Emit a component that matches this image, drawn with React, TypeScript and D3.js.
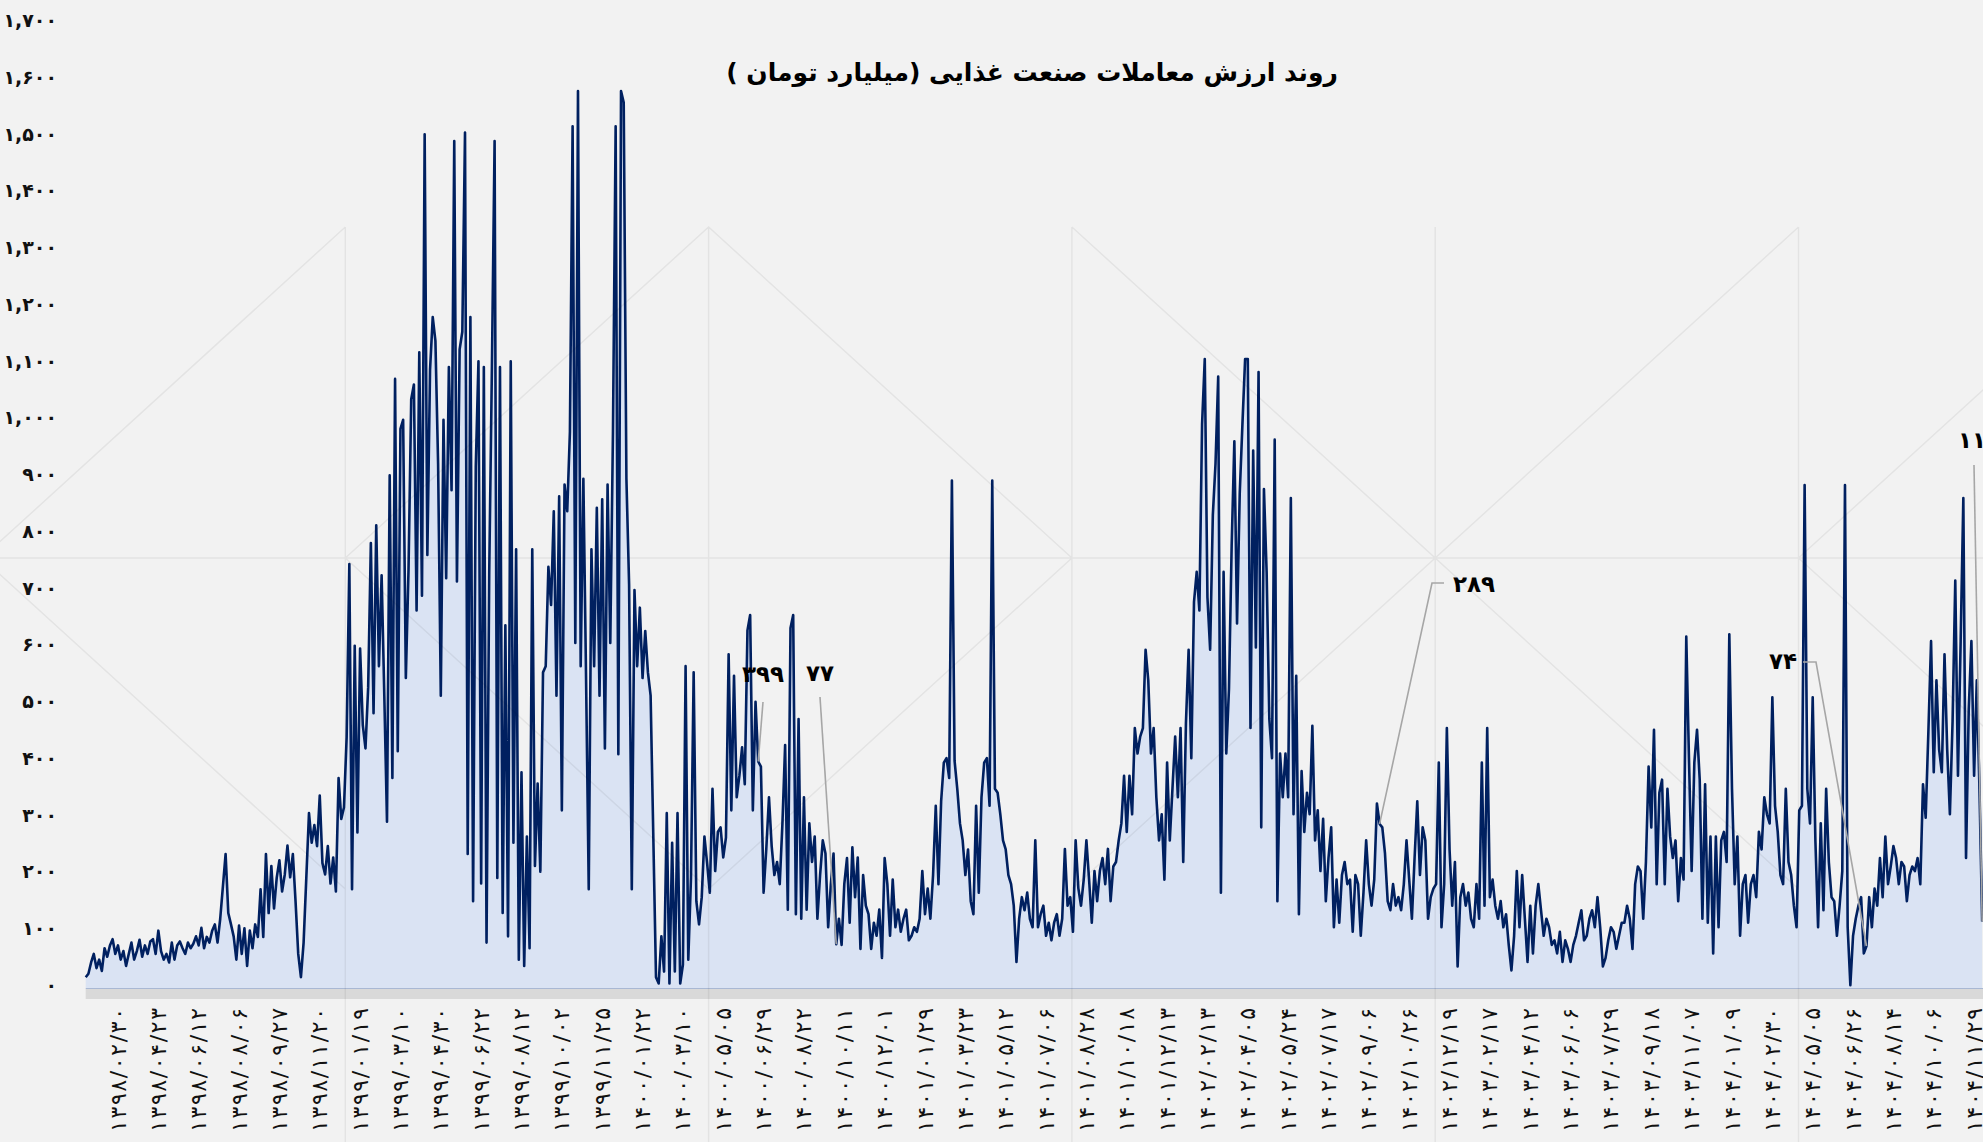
import React from 'react';
import * as d3 from 'd3';

// Daily (sampled) value of food-industry trades, billion toman
const values: number[] = [
  19, 25, 45, 60, 35, 50, 30, 70, 55, 75,
  86, 60, 75, 50, 65, 39, 60, 80, 50, 65,
  85, 55, 75, 60, 82, 86, 60, 101, 65, 50,
  60, 45, 80, 50, 75, 82, 70, 60, 80, 70,
  78, 91, 75, 106, 70, 90, 80, 101, 112, 80,
  122, 179, 236, 132, 112, 91, 50, 110, 60, 105,
  39, 101, 70, 112, 90, 174, 90, 236, 132, 215,
  140, 194, 225, 170, 200, 251, 195, 236, 153, 60,
  19, 80, 194, 308, 256, 287, 250, 339, 220, 200,
  250, 184, 230, 170, 370, 298, 318, 442, 747, 174,
  603, 274, 598, 463, 422, 530, 784, 484, 815, 567,
  727, 515, 293, 903, 370, 1073, 417, 985, 1001, 546,
  737, 1037, 1063, 665, 1120, 691, 1504, 763, 1089, 1182,
  1140, 923, 515, 1001, 722, 1094, 877, 1492, 716, 1125,
  1156, 1507, 236, 1182, 153, 918, 1104, 184, 1094, 80,
  732, 1094, 1492, 194, 1094, 132, 639, 91, 1104, 256,
  773, 50, 380, 39, 267, 70, 773, 215, 360, 205,
  556, 567, 742, 675, 840, 515, 866, 313, 887, 840,
  980, 1518, 608, 1580, 567, 897, 546, 174, 773, 567,
  846, 515, 861, 422, 887, 608, 980, 1518, 412, 1580,
  1560, 897, 711, 174, 701, 567, 670, 546, 629, 556,
  515, 267, 19, 8, 91, 29, 308, 8, 256, 29,
  308, 8, 41, 567, 50, 194, 556, 153, 112, 160,
  267, 220, 168, 351, 206, 275, 283, 230, 265, 588,
  313, 550, 336, 374, 424, 359, 630, 657, 313, 504,
  399, 390, 168, 245, 336, 250, 199, 222, 183, 290,
  428, 138, 634, 657, 130, 474, 122, 336, 138, 290,
  222, 267, 122, 199, 260, 237, 107, 183, 237, 77,
  122, 76, 183, 229, 115, 248, 160, 230, 69, 199,
  145, 130, 69, 115, 92, 138, 53, 229, 183, 92,
  191, 107, 138, 99, 122, 138, 84, 92, 107, 99,
  122, 206, 130, 175, 122, 199, 321, 183, 329, 397,
  405, 370, 894, 400, 351, 290, 260, 199, 244, 153,
  130, 321, 168, 336, 397, 405, 321, 894, 351, 344,
  306, 260, 244, 199, 183, 145, 46, 122, 160, 137,
  168, 122, 107, 260, 107, 130, 145, 92, 115, 84,
  115, 130, 92, 122, 245, 145, 160, 99, 260, 176,
  145, 191, 260, 191, 115, 206, 153, 206, 229, 183,
  245, 153, 214, 222, 260, 290, 374, 275, 374, 306,
  458, 413, 443, 458, 596, 542, 413, 458, 336, 260,
  306, 191, 397, 260, 352, 443, 336, 458, 222, 466,
  596, 405, 680, 733, 665, 993, 1108, 688, 596, 833,
  924, 1077, 168, 733, 413, 527, 779, 963, 642, 871,
  993, 1108, 1108, 458, 947, 600, 1085, 283, 879, 733,
  474, 405, 966, 153, 413, 336, 413, 336, 863, 306,
  550, 130, 382, 275, 344, 306, 462, 260, 313, 206,
  298, 153, 229, 283, 107, 191, 115, 199, 222, 183,
  191, 99, 199, 183, 92, 168, 260, 183, 145, 191,
  325, 289, 283, 237, 153, 137, 183, 145, 160, 137,
  183, 260, 191, 122, 229, 329, 199, 283, 260, 122,
  160, 175, 183, 397, 107, 183, 458, 244, 145, 222,
  38, 160, 183, 145, 168, 122, 107, 183, 122, 397,
  145, 458, 160, 191, 145, 122, 153, 107, 130, 76,
  31, 92, 206, 107, 199, 122, 46, 145, 61, 145,
  183, 137, 92, 122, 107, 76, 84, 61, 99, 46,
  84, 69, 46, 76, 92, 115, 137, 84, 92, 122,
  137, 107, 160, 107, 38, 53, 84, 107, 99, 69,
  92, 115, 115, 145, 122, 69, 183, 214, 206, 122,
  222, 390, 283, 455, 183, 344, 367, 183, 351, 267,
  229, 260, 153, 229, 191, 619, 405, 206, 397, 455,
  367, 122, 359, 115, 267, 61, 267, 107, 260, 275,
  222, 623, 351, 183, 267, 92, 183, 199, 115, 183,
  199, 160, 275, 244, 336, 306, 290, 512, 321, 275,
  199, 183, 351, 222, 199, 145, 107, 313, 321, 886,
  351, 290, 512, 260, 107, 290, 137, 351, 222, 160,
  153, 92, 145, 206, 886, 107, 5, 92, 122, 145,
  160, 61, 74, 160, 107, 175, 145, 229, 160, 267,
  183, 214, 250, 229, 183, 222, 214, 153, 199, 214,
  206, 229, 183, 359, 300, 451, 611, 380, 542, 420,
  380, 588, 420, 306, 470, 718, 374, 611, 863, 229,
  490, 611, 374, 542, 350, 117,
];

const xLabels: string[] = [
  '۱۳۹۸/۰۲/۳۰', '۱۳۹۸/۰۴/۲۳', '۱۳۹۸/۰۶/۱۲', '۱۳۹۸/۰۸/۰۶', '۱۳۹۸/۰۹/۲۷', '۱۳۹۸/۱۱/۲۰',
  '۱۳۹۹/۰۱/۱۹', '۱۳۹۹/۰۳/۱۰', '۱۳۹۹/۰۴/۳۰', '۱۳۹۹/۰۶/۲۲', '۱۳۹۹/۰۸/۱۲', '۱۳۹۹/۱۰/۰۲', '۱۳۹۹/۱۱/۲۵',
  '۱۴۰۰/۰۱/۲۲', '۱۴۰۰/۰۳/۱۰', '۱۴۰۰/۰۵/۰۵', '۱۴۰۰/۰۶/۲۹', '۱۴۰۰/۰۸/۲۲', '۱۴۰۰/۱۰/۱۱', '۱۴۰۰/۱۲/۰۱',
  '۱۴۰۱/۰۱/۲۹', '۱۴۰۱/۰۳/۲۳', '۱۴۰۱/۰۵/۱۲', '۱۴۰۱/۰۷/۰۶', '۱۴۰۱/۰۸/۲۸', '۱۴۰۱/۱۰/۱۸', '۱۴۰۱/۱۲/۱۳',
  '۱۴۰۲/۰۲/۱۳', '۱۴۰۲/۰۴/۰۵', '۱۴۰۲/۰۵/۲۴', '۱۴۰۲/۰۷/۱۷', '۱۴۰۲/۰۹/۰۶', '۱۴۰۲/۱۰/۲۶', '۱۴۰۲/۱۲/۱۹',
  '۱۴۰۳/۰۲/۱۷', '۱۴۰۳/۰۴/۱۲', '۱۴۰۳/۰۶/۰۶', '۱۴۰۳/۰۷/۲۹', '۱۴۰۳/۰۹/۱۸', '۱۴۰۳/۱۱/۰۷',
  '۱۴۰۴/۰۱/۰۹', '۱۴۰۴/۰۲/۳۰', '۱۴۰۴/۰۵/۰۵', '۱۴۰۴/۰۶/۲۶', '۱۴۰۴/۰۸/۱۴', '۱۴۰۴/۱۰/۰۶', '۱۴۰۴/۱۱/۲۹',
];

const yTickValues: number[] = [0, 100, 200, 300, 400, 500, 600, 700, 800, 900, 1000, 1100, 1200, 1300, 1400, 1500, 1600, 1700];

const annotationLabels: string[] = ['۳۹۹', '۷۷', '۲۸۹', '۷۴', '۱۱۷'];
const annotationIndex: number[] = [250, 279, 481, 662, 705];

const title = 'روند ارزش معاملات صنعت غذایی (میلیارد تومان )';

const W = 1983;
const H = 1142;
const FIRST_TICK_INDEX = 12;
const POINTS_PER_TICK = 15;

const toFa = (s: string) => s.replace(/[0-9]/g, (d) => '۰۱۲۳۴۵۶۷۸۹'[+d]);

export default function App() {
  const lastTick = FIRST_TICK_INDEX + (xLabels.length - 1) * POINTS_PER_TICK;
  const x = d3.scaleLinear().domain([FIRST_TICK_INDEX, lastTick]).range([118, 1974.1]);
  const y = d3.scaleLinear().domain([0, 1700]).range([988, 23]);

  const line = d3.line<number>().x((_, i) => x(i)).y((d) => y(d));
  const area = d3.area<number>().x((_, i) => x(i)).y0(y(0)).y1((d) => y(d));

  const fmt = d3.format(',');

  // watermark geometry
  const cw = 363.3;
  const wx0 = -18;
  const wTop = 227, wMid = 558, wBot = 889;
  const cx = (k: number) => wx0 + k * cw;
  const wm: string[] = [];
  wm.push(`M${cx(-1)},${wTop}L${cx(1)},${wBot}M${cx(-1)},${wBot}L${cx(1)},${wTop}`);
  wm.push(`M${cx(1)},${wMid}L${cx(2)},${wTop}L${cx(3)},${wMid}L${cx(2)},${wBot}Z`);
  wm.push(`M${cx(3)},${wTop}L${cx(5)},${wBot}M${cx(3)},${wBot}L${cx(5)},${wTop}`);
  wm.push(`M${cx(5)},${wMid}L${cx(6)},${wTop}L${cx(7)},${wMid}L${cx(6)},${wBot}Z`);
  for (let k = 1; k <= 5; k++) wm.push(`M${cx(k)},${wTop}L${cx(k)},${H}`);
  wm.push(`M0,${wMid}L${W},${wMid}`);

  const pt = (k: number) => [x(annotationIndex[k]), y(values[annotationIndex[k]])];

  const p0 = pt(0), p1 = pt(1), p2 = pt(2), p3 = pt(3), p4 = pt(4);
  const annFont = { fontFamily: 'DejaVu Sans', fontWeight: 700, fontSize: 23, fill: '#000' } as const;

  return (
    <svg width={W} height={H} style={{ position: 'absolute', left: 0, top: 0 }} xmlns="http://www.w3.org/2000/svg">
      <rect x={0} y={0} width={W} height={H} fill="#f2f2f2" />

      {/* axis band */}
      <rect x={x(0)} y={989} width={W - x(0)} height={10} fill="#d9d9d9" />

      {/* area + line */}
      <path d={area(values) || ''} fill="#dae3f3" />
      <line x1={x(0)} x2={W} y1={y(0) + 0.5} y2={y(0) + 0.5} stroke="#a9b8d3" strokeWidth={1} />
      <path d={line(values) || ''} fill="none" stroke="#002060" strokeWidth={2.6} strokeLinejoin="round" />

      {/* watermark */}
      <path d={wm.join('')} fill="none" stroke="#000" strokeOpacity={0.06} strokeWidth={1.5} />

      {/* y tick labels */}
      {yTickValues.map((v) => (
        <text key={v} x={57} y={y(v) - 3} textAnchor="end" dominantBaseline="central"
          style={{ fontFamily: 'DejaVu Sans', fontWeight: 700, fontSize: 19, fill: '#111' }}>
          {toFa(fmt(v))}
        </text>
      ))}

      {/* x tick labels */}
      {xLabels.map((lab, k) => {
        const xx = x(FIRST_TICK_INDEX + k * POINTS_PER_TICK);
        return (
          <text key={lab} transform={`translate(${xx},1008) rotate(-90)`} textAnchor="end" dominantBaseline="central"
            textLength={124} lengthAdjust="spacing"
            style={{ fontFamily: 'DejaVu Sans', fontSize: 22, fill: '#111' }}>
            {lab}
          </text>
        );
      })}

      {/* title */}
      <text x={1032} y={81} textAnchor="middle" direction="rtl"
        style={{ fontFamily: 'DejaVu Sans', fontWeight: 700, fontSize: 25, fill: '#000' }}>
        {title}
      </text>

      {/* annotations */}
      <g fill="none" stroke="#a6a6a6" strokeWidth={1.6}>
        <polyline points={`763,702 ${p0[0]},${p0[1]}`} />
        <polyline points={`820,697 ${p1[0]},${p1[1]}`} />
        <polyline points={`1444,583 1432,583 ${p2[0]},${p2[1]}`} />
        <polyline points={`1803,662 1816,662 ${p3[0]},${p3[1]}`} />
        <polyline points={`1974,465 ${p4[0]},${p4[1]}`} />
      </g>
      <text x={763} y={682} textAnchor="middle" style={annFont}>{annotationLabels[0]}</text>
      <text x={820} y={681} textAnchor="middle" style={annFont}>{annotationLabels[1]}</text>
      <text x={1453} y={592} textAnchor="start" style={annFont}>{annotationLabels[2]}</text>
      <text x={1797} y={669} textAnchor="end" style={annFont}>{annotationLabels[3]}</text>
      <text x={1958} y={448} textAnchor="start" style={annFont}>{annotationLabels[4]}</text>
    </svg>
  );
}
